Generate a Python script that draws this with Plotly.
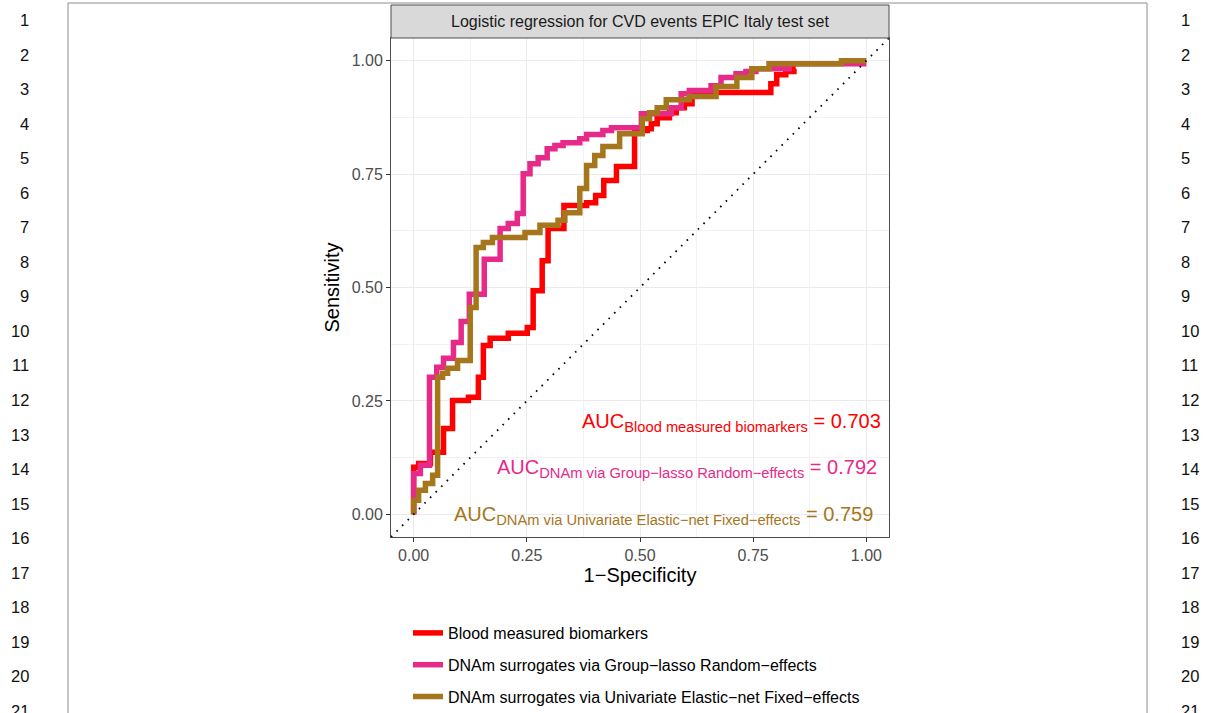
import plotly.graph_objects as go

# ---------------- data ----------------
series_names = [
    "Blood measured biomarkers",
    "DNAm surrogates via Group\u2212lasso Random\u2212effects",
    "DNAm surrogates via Univariate Elastic\u2212net Fixed\u2212effects",
]
auc_labels = [
    "Blood measured biomarkers",
    "DNAm via Group\u2212lasso Random\u2212effects",
    "DNAm via Univariate Elastic\u2212net Fixed\u2212effects",
]
auc_values = [0.703, 0.792, 0.759]

fpr_blood = [0, 0, 0.011, 0.037, 0.066, 0.086, 0.121, 0.143, 0.154, 0.169,
             0.209, 0.251, 0.264, 0.284, 0.297, 0.332, 0.382, 0.402, 0.420, 0.448,
             0.488, 0.516, 0.525, 0.538, 0.565, 0.580, 0.598, 0.615, 0.789, 0.802,
             0.822, 0.840, 0.844]
tpr_blood = [0, 0.104, 0.112, 0.137, 0.189, 0.251, 0.258, 0.302, 0.372, 0.388,
             0.399, 0.412, 0.493, 0.559, 0.630, 0.681, 0.687, 0.703, 0.736, 0.767,
             0.846, 0.850, 0.861, 0.874, 0.885, 0.896, 0.905, 0.930, 0.949, 0.969,
             0.976, 0.982, 0.982]

fpr_group = [0, 0, 0.015, 0.035, 0.051, 0.066, 0.088, 0.105, 0.123, 0.156,
             0.191, 0.209, 0.229, 0.242, 0.257, 0.275, 0.295, 0.312, 0.330, 0.367,
             0.382, 0.418, 0.437, 0.503, 0.569, 0.591, 0.609, 0.657, 0.679, 0.712,
             0.734, 0.756, 0.829, 1.0]
tpr_group = [0, 0.090, 0.108, 0.302, 0.324, 0.344, 0.379, 0.425, 0.485, 0.562,
             0.630, 0.641, 0.663, 0.751, 0.773, 0.786, 0.806, 0.813, 0.819, 0.828,
             0.837, 0.846, 0.852, 0.883, 0.896, 0.927, 0.934, 0.945, 0.963, 0.971,
             0.976, 0.982, 0.993, 0.993]

fpr_enet = [0, 0, 0.011, 0.026, 0.042, 0.053, 0.064, 0.075, 0.097, 0.125,
            0.138, 0.154, 0.174, 0.246, 0.279, 0.319, 0.334, 0.367, 0.382, 0.400,
            0.418, 0.455, 0.505, 0.521, 0.538, 0.558, 0.609, 0.668, 0.714, 0.747,
            0.785, 0.945, 1.0]
tpr_enet = [0, 0.031, 0.053, 0.068, 0.086, 0.302, 0.311, 0.322, 0.339, 0.456,
            0.588, 0.599, 0.610, 0.621, 0.637, 0.648, 0.665, 0.718, 0.769, 0.791,
            0.811, 0.839, 0.872, 0.885, 0.896, 0.914, 0.921, 0.943, 0.963, 0.982,
            0.993, 1.0, 1.0]

colors = ["#FF0000", "#E7298A", "#A6761D"]
axis_limits = [-0.05, 1.05]
line_numbers = list(range(1, 22))
title_text = "Logistic regression for CVD events EPIC Italy test set"

# ---------------- figure ----------------
FONT = "Liberation Sans, Arial, Helvetica, sans-serif"
W, H = 1215, 713
ML, MR, MT, MB = 391, 326, 38, 176
PW, PH = W - ML - MR, H - MT - MB


def px_x(p):
    """window pixel x -> paper coordinate"""
    return (p - ML) / PW


def px_y(p):
    """window pixel y -> paper coordinate"""
    return (H - MB - p) / PH


fig = go.Figure()
curves = [(fpr_blood, tpr_blood), (fpr_group, tpr_group), (fpr_enet, tpr_enet)]
for i, (fx, ty) in enumerate(curves):
    fig.add_trace(go.Scatter(
        x=fx, y=ty, mode="lines", line=dict(color=colors[i], width=5.5, shape="hv"),
        name=series_names[i], legendgroup=f"g{i}", hoverinfo="skip",
    ))

fig.add_trace(go.Scatter(
    x=axis_limits, y=axis_limits, mode="lines",
    line=dict(color="black", width=1.8, dash="1.6px,6.3px"),
    showlegend=False, hoverinfo="skip",
))

axis_common = dict(
    range=axis_limits, dtick=0.25, tick0=0, tickformat=".2f",
    ticks="outside", ticklen=4, tickwidth=1, tickcolor="#333333",
    tickfont=dict(family=FONT, size=16, color="#4D4D4D"),
    showgrid=True, gridcolor="#EBEBEB", gridwidth=1.1,
    minor=dict(dtick=0.125, tick0=0, showgrid=True, gridcolor="#F2F2F2", gridwidth=0.6),
    zeroline=False, showline=True, mirror=True, linecolor="#4D4D4D", linewidth=1,
    automargin=False,
)

fig.update_layout(
    width=W, height=H, autosize=False,
    margin=dict(l=ML, r=MR, t=MT, b=MB, pad=0, autoexpand=False),
    paper_bgcolor="white", plot_bgcolor="white",
    font=dict(family=FONT, color="black"),
    hovermode=False,
    xaxis=dict(axis_common, title=dict(text="1\u2212Specificity", font=dict(size=20, color="black"), standoff=4)),
    yaxis=dict(axis_common, title=dict(text="Sensitivity", font=dict(size=20, color="black"), standoff=6)),
    legend=dict(
        x=px_x(408), y=px_y(616), xanchor="left", yanchor="top",
        orientation="v", font=dict(family=FONT, size=16, color="black"),
        bgcolor="rgba(0,0,0,0)", tracegroupgap=8, itemwidth=30,
    ),
    showlegend=True,
)

shapes = []
# facet strip
shapes.append(dict(type="rect", xref="paper", yref="paper", x0=0, x1=1,
                   y0=1.0, y1=px_y(5), fillcolor="#D9D9D9",
                   line=dict(color="#4D4D4D", width=1)))
# manuscript page frame
left_x, right_x, top_y, bot_y = px_x(68), px_x(1147), px_y(3), px_y(713)
shapes.append(dict(type="line", xref="paper", yref="paper", x0=left_x, x1=left_x,
                   y0=bot_y, y1=top_y, line=dict(color="#8C8C8C", width=1)))
shapes.append(dict(type="line", xref="paper", yref="paper", x0=right_x, x1=right_x,
                   y0=bot_y, y1=top_y, line=dict(color="#8C8C8C", width=1)))
shapes.append(dict(type="line", xref="paper", yref="paper", x0=left_x, x1=right_x,
                   y0=top_y, y1=top_y, line=dict(color="#8C8C8C", width=1)))
fig.update_layout(shapes=shapes)

annotations = [dict(text=title_text, xref="paper", yref="paper", x=0.5,
                    y=(1.0 + px_y(5)) / 2, xanchor="center", yanchor="middle",
                    showarrow=False, font=dict(family=FONT, size=16, color="#1A1A1A"))]

auc_pos = [(1.037, 0.203), (1.027, 0.102), (1.020, -0.003)]
for i in range(3):
    annotations.append(dict(
        text=(f"AUC<sub><span style=\"font-size:14.7px\">{auc_labels[i]}</span></sub>"
              f" = {auc_values[i]:.3f}"),
        xref="x", yref="y", x=auc_pos[i][0], y=auc_pos[i][1],
        xanchor="right", yanchor="middle", showarrow=False,
        font=dict(family=FONT, size=20, color=colors[i]),
    ))

for n in line_numbers:
    yy = px_y(20 + 34.55 * (n - 1))
    annotations.append(dict(text=str(n), xref="paper", yref="paper", x=px_x(31), y=yy,
                            xanchor="right", yanchor="middle", showarrow=False,
                            font=dict(family=FONT, size=16.5, color="#111111")))
    annotations.append(dict(text=str(n), xref="paper", yref="paper", x=px_x(1179), y=yy,
                            xanchor="left", yanchor="middle", showarrow=False,
                            font=dict(family=FONT, size=16.5, color="#111111")))

fig.update_layout(annotations=annotations)

fig.write_html("out.html", config={"displayModeBar": False, "responsive": False},
               post_script="document.body.style.margin='0px';document.body.style.overflow='hidden';")
